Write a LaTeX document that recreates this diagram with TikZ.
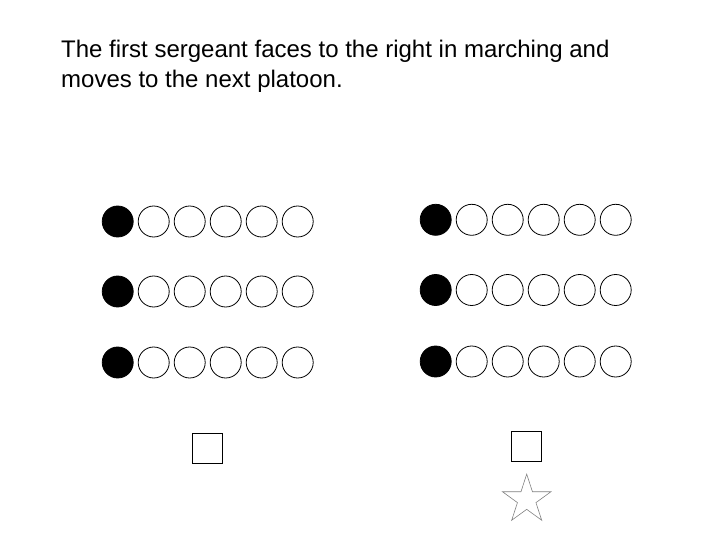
\documentclass[tikz,border=0pt]{standalone}
\usepackage{fontspec}
\setmainfont{Liberation Sans}
\usetikzlibrary{shapes.geometric}

\begin{document}
\begin{tikzpicture}[x=1pt, y=-1pt,
    soldier/.style={circle, draw, line width=0.8pt, minimum size=31pt, inner sep=0pt},
    sergeant/.style={soldier, fill=black},
    officer/.style={rectangle, draw, line width=0.8pt, minimum size=30pt, inner sep=0pt},
    leader/.style={star, star points=5, star point ratio=2.618, draw=gray, line width=0.6pt, minimum size=51pt, inner sep=0pt}]
   \useasboundingbox (0,0) rectangle (720,540);

   \node[anchor=north west, align=left, inner sep=0pt, font=\fontsize{24}{30}\selectfont] (txt) at (61,40)
      {The first sergeant faces to the right in marching and\\moves to the next platoon.};

   % left platoon
   \foreach \r/\y in {1/221.5, 2/291.5, 3/362.5} {
      \node[sergeant] (L\r-1) at (117.7,\y) {};
      \foreach \c in {2,...,6}
         \node[soldier] (L\r-\c) at ({117.7+36*(\c-1)},\y) {};
   }
   % right platoon
   \foreach \r/\y in {1/219.8, 2/290, 3/361.5} {
      \node[sergeant] (R\r-1) at (435.7,\y) {};
      \foreach \c in {2,...,6}
         \node[soldier] (R\r-\c) at ({435.7+36*(\c-1)},\y) {};
   }

   \node[officer] (plL) at (207.7,448.3) {};
   \node[officer] (plR) at (526.3,446.3) {};
   \node[leader] (fsg) at (526.7,499.6) {};
\end{tikzpicture}
\end{document}
